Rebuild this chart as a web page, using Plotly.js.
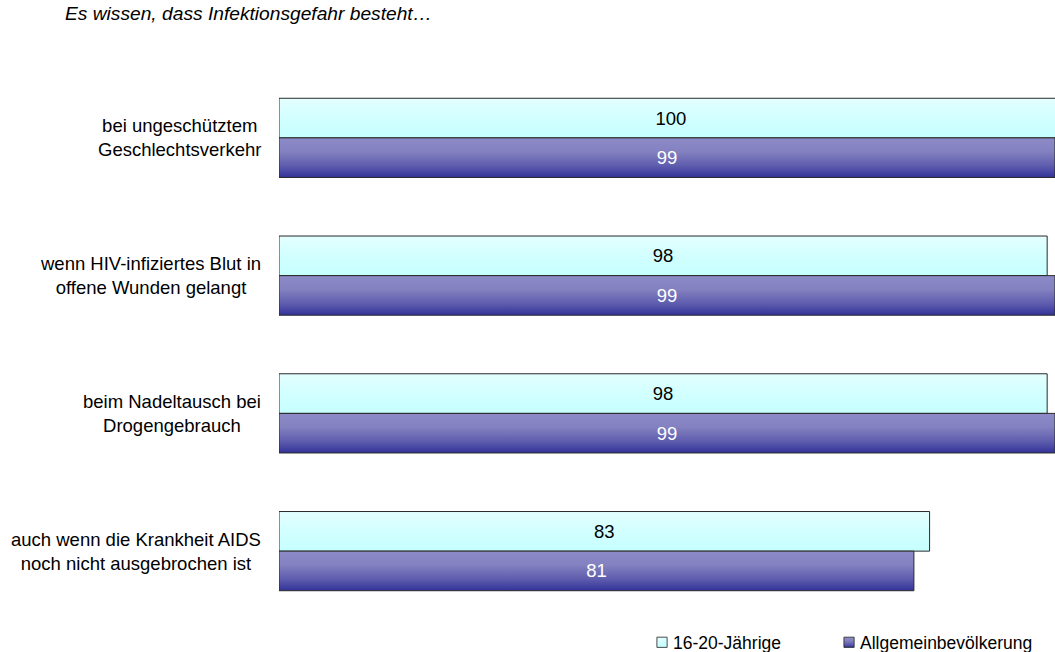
<!DOCTYPE html>
<html>
<head>
<meta charset="utf-8">
<script src="https://cdn.plot.ly/plotly-3.0.1.min.js"></script>
<style>html,body{margin:0;padding:0;background:#fff;}#chart{width:1055px;height:652px;}</style>
</head>
<body>
<div id="chart"></div>
<script>
var categories = [
  "bei ungeschütztem<br>Geschlechtsverkehr",
  "wenn HIV-infiziertes Blut in<br>offene Wunden gelangt",
  "beim Nadeltausch bei<br>Drogengebrauch",
  "auch wenn die Krankheit AIDS<br>noch nicht ausgebrochen ist"
];
var seriesNames = ["16-20-Jährige", "Allgemeinbevölkerung"];
var youth = [100, 98, 98, 83];
var general = [99, 99, 99, 81];
var titleText = "Es wissen, dass Infektionsgefahr besteht…";

var FONT = "'Liberation Sans', Arial, sans-serif";
var catIdx = categories.map(function(_, i){ return i; });

var traces = [
  {
    type: "bar", orientation: "h", name: seriesNames[0], legend: "legend",
    x: youth, y: catIdx,
    text: youth.map(String), textposition: "inside", insidetextanchor: "middle",
    textangle: 0, constraintext: "none",
    textfont: {family: FONT, size: 18.5, color: "#000000"},
    marker: {color: "#CCFFFF", line: {color: "#2a2a2a", width: 1}},
    hoverinfo: "skip"
  },
  {
    type: "bar", orientation: "h", name: seriesNames[1], legend: "legend2",
    x: general, y: catIdx,
    text: general.map(String), textposition: "inside", insidetextanchor: "middle",
    textangle: 0, constraintext: "none",
    textfont: {family: FONT, size: 18.5, color: "#FFFFFF"},
    marker: {color: "#5F5DAE", line: {color: "#2a2a2a", width: 1}},
    hoverinfo: "skip"
  }
];

var annotations = categories.map(function(c, i){
  return {
    xref: "paper", yref: "y", x: 0, y: i, xanchor: "right", yanchor: "middle",
    xshift: -16, text: c, showarrow: false, align: "center",
    font: {family: FONT, size: 18.5, color: "#000000"}
  };
});
annotations.push({
  xref: "paper", yref: "paper", x: -0.2784, y: 1, yshift: 68, xanchor: "left", yanchor: "top",
  text: "<i>" + titleText + "</i>", showarrow: false,
  font: {family: FONT, size: 19.2, color: "#000000"}
});

var legendBase = {
  orientation: "h", xanchor: "left", y: -0.008, yanchor: "top",
  font: {family: FONT, size: 17.5, color: "#000000"},
  itemwidth: 30, bgcolor: "rgba(0,0,0,0)"
};
var legend1 = Object.assign({}, legendBase, {x: 0.4562});
var legend2 = Object.assign({}, legendBase, {x: 0.6972});

var layout = {
  width: 1055, height: 652,
  margin: {l: 279, r: 0, t: 69, b: 32, pad: 0, autoexpand: false},
  paper_bgcolor: "#FFFFFF", plot_bgcolor: "#FFFFFF",
  barmode: "group", bargap: 0.425, bargroupgap: 0,
  showlegend: true,
  legend: legend1,
  legend2: legend2,
  xaxis: {range: [0, 99], showgrid: false, zeroline: false, showline: false,
          showticklabels: false, ticks: "", fixedrange: true},
  yaxis: {range: [3.5, -0.5], showgrid: false, zeroline: false, showline: false,
          showticklabels: false, ticks: "", fixedrange: true},
  annotations: annotations,
  font: {family: FONT}
};

Plotly.newPlot("chart", traces, layout, {displayModeBar: false, staticPlot: true}).then(function(gd){
  var NS = "http://www.w3.org/2000/svg";
  var defs = gd.querySelector("svg.main-svg defs");
  function grad(id, stops){
    var g = document.createElementNS(NS, "linearGradient");
    g.setAttribute("id", id);
    g.setAttribute("x1", "0"); g.setAttribute("y1", "0");
    g.setAttribute("x2", "0"); g.setAttribute("y2", "1");
    stops.forEach(function(s){
      var st = document.createElementNS(NS, "stop");
      st.setAttribute("offset", s[0]);
      st.setAttribute("stop-color", s[1]);
      g.appendChild(st);
    });
    defs.appendChild(g);
  }
  grad("gCyan", [["0", "#E4FFFF"], ["0.5", "#D2FFFF"], ["1", "#C6FFFF"]]);
  grad("gPurple", [["0", "#8C8AC7"], ["0.35", "#8381BF"], ["0.7", "#5F5DAE"], ["1", "#333399"]]);
  var ids = ["gCyan", "gPurple"];
  var groups = gd.querySelectorAll(".barlayer .trace");
  groups.forEach(function(tg, i){
    tg.querySelectorAll(".point path").forEach(function(p){ p.style.fill = "url(#" + ids[i] + ")"; });
  });
  var legs = [gd.querySelector(".legend"), gd.querySelector(".legend2")];
  legs.forEach(function(lg, i){
    if (!lg) return;
    lg.querySelectorAll(".legendpoints path").forEach(function(p){
      p.style.fill = "url(#" + ids[i] + ")";
      p.setAttribute("transform", "translate(29,0) scale(0.85)");
    });
  });
});
</script>
</body>
</html>
